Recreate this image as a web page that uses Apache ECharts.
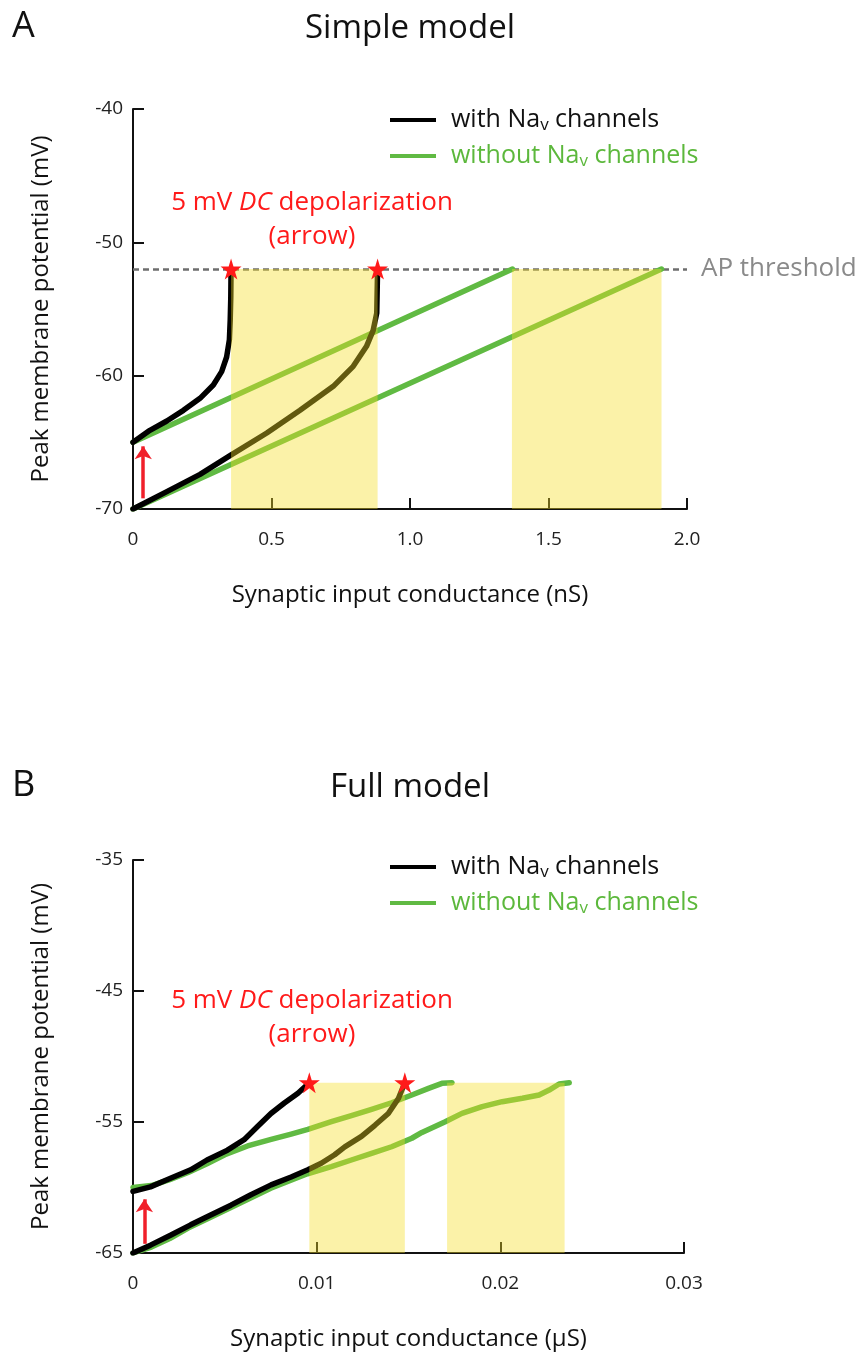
<!DOCTYPE html>
<html>
<head>
<meta charset="utf-8">
<script src="https://cdn.jsdelivr.net/npm/echarts@6.0.0/dist/echarts.min.js"></script>
<style>
  html, body { margin: 0; padding: 0; background: #fff; }
  #chart { width: 866px; height: 1355px; }
</style>
</head>
<body>
<div id="chart"></div>
<script>
// ---- Panel A: simple model (conductance in nS, potential in mV) ----
var condA_withUp = [0, 0.061, 0.122, 0.182, 0.242, 0.29, 0.32, 0.338, 0.348, 0.351, 0.353, 0.354];
var vmA_withUp = [-65, -64.1, -63.4, -62.6, -61.7, -60.7, -59.7, -58.6, -57.3, -55.8, -54.1, -52];
var condA_withLow = [0, 0.122, 0.242, 0.35, 0.483, 0.603, 0.723, 0.795, 0.843, 0.867, 0.88, 0.883];
var vmA_withLow = [-70, -68.7, -67.4, -66.0, -64.3, -62.6, -60.8, -59.3, -57.8, -56.6, -55.3, -52];
var condA_withoutUp = [0, 1.37];
var vmA_withoutUp = [-65, -52];
var condA_withoutLow = [0, 1.908];
var vmA_withoutLow = [-70, -52];
var starsA = [0.354, 0.883];          // AP reached (with Nav)
var shadeA = [[0.354, 0.883], [1.368, 1.908]];
var arrowA = [0.037, -69.2, -65.3];   // x, from, to
var xTicksA = [0, 2, 0.5];
var yTicksA = [-70, -40, 10];

// ---- Panel B: full model (conductance in uS) ----
var condB_withUp = [0, 0.00095, 0.00204, 0.00314, 0.00403, 0.00514, 0.00605, 0.00678, 0.00751, 0.00824, 0.00898, 0.0096];
var vmB_withUp = [-60.3, -59.95, -59.3, -58.65, -57.9, -57.15, -56.35, -55.35, -54.35, -53.55, -52.8, -52];
var condB_withLow = [0, 0.00095, 0.00204, 0.00314, 0.00423, 0.00533, 0.00642, 0.00752, 0.00861, 0.00952, 0.01025, 0.01098, 0.01153, 0.01244, 0.01317, 0.0139, 0.01445, 0.0148];
var vmB_withLow = [-65, -64.4, -63.65, -62.85, -62.1, -61.35, -60.55, -59.8, -59.2, -58.65, -58.15, -57.5, -56.9, -56.1, -55.25, -54.35, -53.2, -52];
var condB_withoutUp = [0, 0.001, 0.002, 0.003, 0.004, 0.005, 0.00624, 0.00752, 0.00861, 0.00952, 0.0108, 0.01189, 0.01299, 0.01408, 0.01518, 0.01609, 0.01682, 0.01737];
var vmB_withoutUp = [-60.0, -59.85, -59.4, -58.85, -58.2, -57.5, -56.83, -56.32, -55.92, -55.56, -54.98, -54.52, -54.03, -53.53, -52.94, -52.43, -52.05, -52];
var condB_withoutLow = [0, 0.001, 0.002, 0.003, 0.0042, 0.0053, 0.0064, 0.0075, 0.0086, 0.0095, 0.0108, 0.01189, 0.01299, 0.01408, 0.01518, 0.01573, 0.017, 0.01791, 0.01901, 0.0201, 0.0212, 0.02211, 0.02266, 0.0232, 0.02375];
var vmB_withoutLow = [-65, -64.55, -63.9, -63.1, -62.3, -61.55, -60.8, -60.05, -59.45, -58.95, -58.41, -57.9, -57.39, -56.89, -56.24, -55.8, -54.98, -54.34, -53.83, -53.45, -53.19, -52.94, -52.56, -52.1, -52];
var starsB = [0.0096, 0.0148];
var shadeB = [[0.0096, 0.0148], [0.0171, 0.0235]];
var arrowB = [0.00062, -64.3, -60.9];
var xTicksB = [0, 0.03, 0.01];
var yTicksB = [-65, -35, 10];

var threshold = -52; // AP threshold (mV)

var FONT = "Open Sans";
var BLACK = "#000";
var GREEN = "#60ba43";
var NAME_WITH = "with Nav channels";
var NAME_WITHOUT = "without Nav channels";

function zip(xs, ys) {
  return xs.map(function (x, i) { return [x, ys[i]]; });
}

function curve(name, idx, xs, ys, color) {
  return {
    name: name, type: "line", xAxisIndex: idx, yAxisIndex: idx,
    data: zip(xs, ys), showSymbol: false, symbol: "none", smooth: false,
    lineStyle: { color: color, width: 5.5, cap: "round", join: "round" },
    itemStyle: { color: color }, z: 2, silent: true
  };
}

function extras(idx, stars, shade, arrow, yMin, xEnd) {
  return [
    {
      // yellow shift regions, drawn over the curves
      name: "shade" + idx, type: "line", xAxisIndex: idx, yAxisIndex: idx, data: [], silent: true,
      markArea: {
        silent: true, z: 3,
        itemStyle: { color: "rgba(245,222,38,0.40)" },
        data: shade.map(function (s) { return [{ coord: [s[0], yMin] }, { coord: [s[1], threshold] }]; })
      }
    },
    {
      name: "thr" + idx, type: "line", xAxisIndex: idx, yAxisIndex: idx, data: [], silent: true,
      markLine: {
        silent: true, z: 2, symbol: ["none", "none"], animation: false,
        lineStyle: { color: "#6e6e6e", width: 2.5, type: [6, 4] },
        label: { show: true, position: "end", formatter: "AP threshold", distance: 14,
                 color: "#8a8a8a", fontSize: 26, fontFamily: FONT },
        data: [[{ coord: [0, threshold] }, { coord: [xEnd, threshold] }]]
      }
    },
    {
      name: "arrow" + idx, type: "line", xAxisIndex: idx, yAxisIndex: idx, data: [], silent: true,
      markLine: {
        silent: true, z: 4, symbol: ["none", "arrow"], symbolSize: 13, animation: false,
        lineStyle: { color: "#f0202a", width: 3.5, type: "solid" },
        label: { show: false },
        data: [[{ coord: [arrow[0], arrow[1]] }, { coord: [arrow[0], arrow[2]] }]]
      }
    },
    {
      name: "stars" + idx, type: "scatter", xAxisIndex: idx, yAxisIndex: idx, silent: true,
      data: stars.map(function (x) { return [x, threshold]; }),
      symbol: "path://M50,0 L61,35 L98,35 L68,57 L79,91 L50,70 L21,91 L32,57 L2,35 L39,35 Z",
      symbolSize: 21, itemStyle: { color: "#ff1a1a", opacity: 1 }, z: 6
    }
  ];
}

function xAxis(idx, ticks, name, digits) {
  return {
    gridIndex: idx, type: "value", min: ticks[0], max: ticks[1], interval: ticks[2],
    axisLine: { onZero: false, lineStyle: { color: "#111", width: 2 } },
    axisTick: { inside: true, length: 11, lineStyle: { color: "#111", width: 2 } },
    splitLine: { show: false },
    axisLabel: {
      margin: 21, fontSize: 19, color: "#222", fontFamily: FONT, showMinLabel: true, showMaxLabel: true,
      formatter: function (v) { return v === 0 ? "0" : v.toFixed(digits); }
    },
    name: name, nameLocation: "middle", nameGap: 74,
    nameTextStyle: { fontSize: 24, color: "#111", fontFamily: FONT }
  };
}

function yAxis(idx, ticks) {
  return {
    gridIndex: idx, type: "value", min: ticks[0], max: ticks[1], interval: ticks[2],
    axisLine: { onZero: false, lineStyle: { color: "#111", width: 2 } },
    axisTick: { inside: true, length: 11, lineStyle: { color: "#111", width: 2 } },
    splitLine: { show: false },
    axisLabel: { margin: 10, fontSize: 19, color: "#222", fontFamily: FONT },
    name: "Peak membrane potential (mV)", nameLocation: "middle", nameGap: 80, nameRotate: 90,
    nameTextStyle: { fontSize: 24, color: "#111", fontFamily: FONT }
  };
}

function legend(top) {
  return {
    left: 385, top: top, orient: "vertical", itemWidth: 46, itemHeight: 4, itemGap: 8,
    icon: "rect", selectedMode: false,
    data: [
      { name: NAME_WITH, textStyle: { color: "#111" } },
      { name: NAME_WITHOUT, textStyle: { color: "#5cb83c" } }
    ],
    formatter: function (n) {
      return n === NAME_WITH ? "{g| }{a|with Na}{s|v}{a| channels}" : "{g| }{a|without Na}{s|v}{a| channels}";
    },
    textStyle: {
      fontFamily: FONT, fontSize: 25, lineHeight: 28,
      rich: {
        g: { width: 10 },
        a: { fontSize: 25, fontFamily: FONT, lineHeight: 28 },
        s: { fontSize: 17, fontFamily: FONT, lineHeight: 28, verticalAlign: "bottom" }
      }
    }
  };
}

function note(y) {
  var rich = {
    r: { fontSize: 26, fontFamily: FONT, fill: "#ff1a1a" },
    i: { fontSize: 26, fontFamily: FONT, fontStyle: "italic", fill: "#ff1a1a" }
  };
  return [
    { type: "text", x: 312, y: y, style: { text: "{r|5 mV }{i|DC}{r| depolarization}", rich: rich, align: "center", verticalAlign: "middle" } },
    { type: "text", x: 312, y: y + 34, style: { text: "(arrow)", fontSize: 26, fontFamily: FONT, fill: "#ff1a1a", align: "center", verticalAlign: "middle" } }
  ];
}

function heading(letter, title, y) {
  return [
    { type: "text", x: 12, y: y, style: { text: letter, fontSize: 36, fontFamily: FONT, fill: "#111", verticalAlign: "middle" } },
    { type: "text", x: 410, y: y + 2, style: { text: title, fontSize: 33, fontFamily: FONT, fill: "#111", align: "center", verticalAlign: "middle" } }
  ];
}

var chart = echarts.init(document.getElementById("chart"), null, { renderer: "canvas" });

var series = [
  curve(NAME_WITHOUT, 0, condA_withoutUp, vmA_withoutUp, GREEN),
  curve(NAME_WITHOUT, 0, condA_withoutLow, vmA_withoutLow, GREEN),
  curve(NAME_WITH, 0, condA_withUp, vmA_withUp, BLACK),
  curve(NAME_WITH, 0, condA_withLow, vmA_withLow, BLACK),
  curve(NAME_WITHOUT, 1, condB_withoutUp, vmB_withoutUp, GREEN),
  curve(NAME_WITHOUT, 1, condB_withoutLow, vmB_withoutLow, GREEN),
  curve(NAME_WITH, 1, condB_withUp, vmB_withUp, BLACK),
  curve(NAME_WITH, 1, condB_withLow, vmB_withLow, BLACK)
].concat(
  extras(0, starsA, shadeA, arrowA, yTicksA[0], 2.0),
  extras(1, starsB, shadeB, arrowB, yTicksB[0], 0.0302)
);

var option = {
  backgroundColor: "#fff",
  animation: false,
  grid: [
    { left: 133, top: 109, width: 554, height: 400 },
    { left: 133, top: 860, width: 551, height: 393 }
  ],
  xAxis: [
    xAxis(0, xTicksA, "Synaptic input conductance (nS)", 1),
    xAxis(1, xTicksB, "Synaptic input conductance (\u03bcS)", 2)
  ],
  yAxis: [yAxis(0, yTicksA), yAxis(1, yTicksB)],
  legend: [legend(101), legend(848)],
  graphic: heading("A", "Simple model", 27).concat(heading("B", "Full model", 786), note(203), note(1001)),
  series: series
};

chart.setOption(option);
</script>
</body>
</html>
